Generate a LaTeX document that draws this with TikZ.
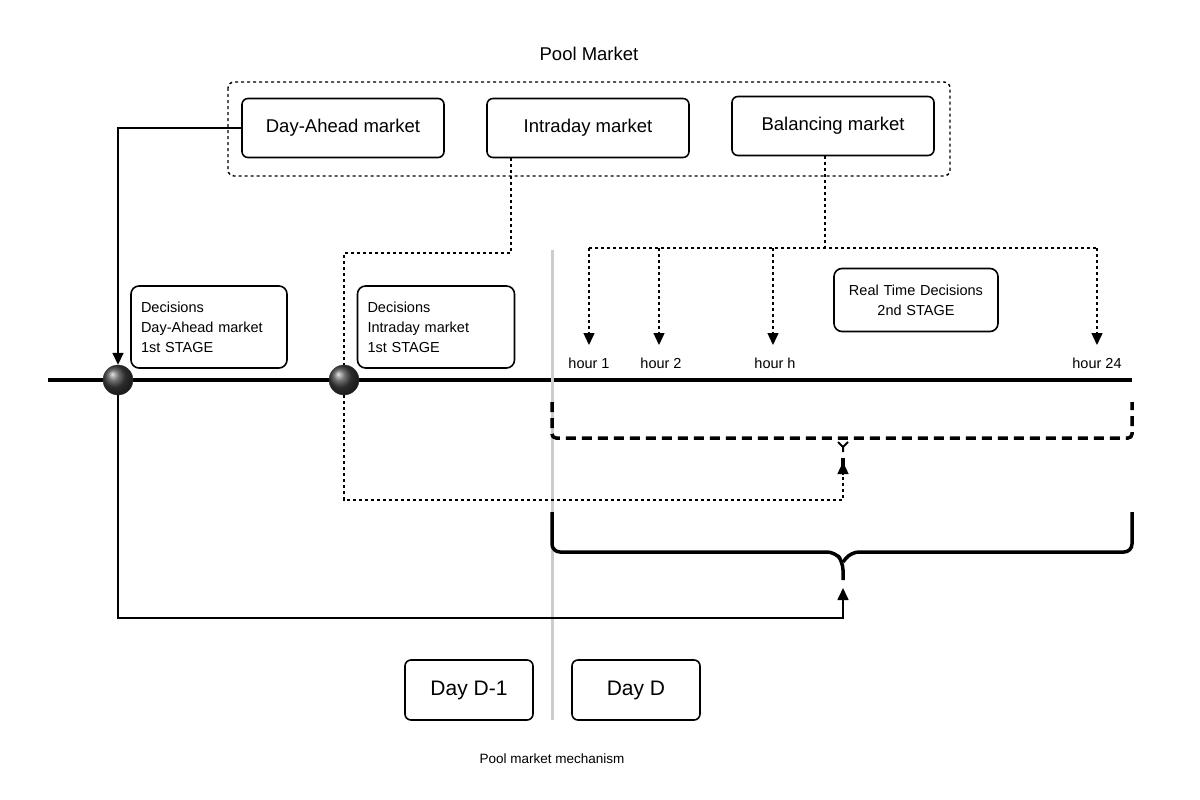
\documentclass[tikz,border=0pt]{standalone}
\usepackage{fontspec}
\setmainfont{Liberation Sans}
\usetikzlibrary{arrows.meta,positioning,calc}
\tikzset{
    every picture/.style = {
        > = {Triangle[length=12pt,width=11pt]},
        x = 1pt, y = -1pt
    },
    market/.style = {
        draw, line width = 1.6pt, rounded corners = 6pt,
        minimum width = 202pt, minimum height = 59pt,
        font = \fontsize{18.5}{20}\selectfont
    },
    decision/.style = {
        draw, line width = 1.6pt, rounded corners = 8pt, align = left,
        text width = 136pt, minimum height = 82pt,
        inner sep = 10pt, font = \fontsize{14.5}{20}\selectfont
    },
    day/.style = {
        draw, line width = 1.6pt, rounded corners = 6pt,
        minimum width = 128pt, minimum height = 60pt,
        font = \fontsize{21}{22}\selectfont
    },
    hour/.style = {font = \fontsize{14.5}{16}\selectfont},
    event/.style = {
        circle, minimum size = 30pt, inner sep = 0pt,
        ball color = black!75, draw = black!80
    },
    dots/.style = {dash pattern = on 3pt off 3pt, line width = 1.4pt},
    link/.style = {line width = 1.6pt}
}
\begin{document}
\begin{tikzpicture}
    \useasboundingbox (0,0) rectangle (1200,800);

    % pool market
    \node[font=\fontsize{18.5}{20}\selectfont] (title) at (589,54) {Pool Market};
    \draw[dots, rounded corners=6pt] (228,82) rectangle (950,176);
    \node[market] (da) at (343,128) {Day-Ahead market};
    \node[market] (id) at (588,128) {Intraday market};
    \node[market] (bal) at (833,126) {Balancing market};

    % time line
    \draw[line width=3.5pt] (48,380) -- (1132,380);
    \draw[line width=3pt, black!20] (552,250) -- (552,720);
    \draw[dots] (511,158) |- (344,253) -- (344,370);
    \node[event] (d1) at (118,380) {};
    \node[event] (d2) at (344,380) {};

    \node[decision] (dec1) at (209,327) {Decisions\\Day-Ahead market\\1st STAGE};
    \node[decision, text width=137pt] (dec2) at (436,327) {Decisions\\Intraday market\\1st STAGE};
    \node[decision, align=center, text width=144pt, minimum height=63pt] (rt) at (916,300) {Real Time Decisions\\2nd STAGE};

    \node[hour] (h1) at (589,363) {hour 1};
    \node[hour] (h2) at (661,363) {hour 2};
    \node[hour] (hh) at (775,363) {hour h};
    \node[hour] (h24) at (1097,363) {hour 24};

    % braces
    \draw[line width=3.5pt, dash pattern=on 10pt off 6pt, rounded corners=4pt]
        (552,402) -- (552,438) -- (1132,438) -- (1132,402);
    \draw[line width=2pt] (838,442) -- (843,447) -- (848,442) (843,447) -- (843,452);
    \draw[line width=3.5pt, rounded corners=8pt]
        (552,512) -- (552,552) -- (835,552) -- (843,562) -- (843,580);
    \draw[line width=3.5pt, rounded corners=8pt]
        (1132,512) -- (1132,552) -- (851,552) -- (843,562);

    % links
    \draw[link, ->] (da.west) -| (d1.north);
    \draw[link, ->] (d1.south) |- (843,618) -- (843,588);
    \draw[line width=3.5pt] (843,458) -- (843,472);
    \draw[dots, ->] (d2.south) |- (843,500) -- (843,462);
    \draw[dots] ($(bal.south)+(-8,0)$) -- (825,248);
    \draw[dots] (589,248) -- (1097,248);
    \foreach \x in {589,659,773,1097}
        \draw[dots, ->] (\x,248) -- (\x,345);

    % days
    \node[day] (dm1) at (469,690) {Day D-1};
    \node[day] (dd) at (636,690) {Day D};
    \node[font=\fontsize{13.5}{15}\selectfont] (cap) at (552,759) {Pool market mechanism};
\end{tikzpicture}
\end{document}
